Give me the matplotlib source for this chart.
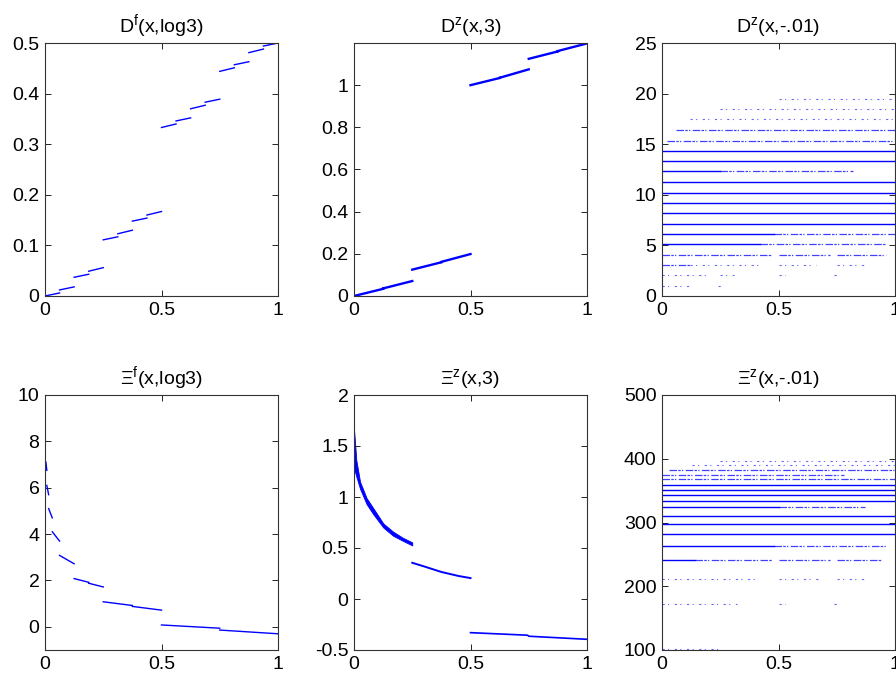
import numpy as np
import matplotlib
matplotlib.use('Agg')
import matplotlib.pyplot as plt
from matplotlib.ticker import FormatStrFormatter

plt.rcParams['font.family'] = ['Liberation Sans', 'DejaVu Sans']
plt.rcParams['mathtext.fontset'] = 'custom'
plt.rcParams['mathtext.rm'] = 'Liberation Sans'
plt.rcParams['axes.unicode_minus'] = False

BLUE = '#0000ff'

# ---- D^f(x,log3): one short rising dash per 1/16 of [0,1]
df_x0 = [0, 0.0625, 0.125, 0.1875, 0.25, 0.3125, 0.375, 0.4375,
         0.5, 0.5625, 0.625, 0.6875, 0.75, 0.8125, 0.875, 0.9375]
df_y0 = [0.0, 0.012, 0.037, 0.049, 0.111, 0.123, 0.148, 0.160,
         0.333, 0.346, 0.370, 0.383, 0.444, 0.457, 0.481, 0.494]
df_y1 = [0.006, 0.018, 0.043, 0.056, 0.117, 0.130, 0.154, 0.167,
         0.340, 0.352, 0.377, 0.389, 0.451, 0.463, 0.488, 0.500]

# ---- D^z(x,3): one dash per 1/8
dz3_x0 = [0, 0.125, 0.25, 0.375, 0.5, 0.625, 0.75, 0.875]
dz3_y0 = [0.0, 0.036, 0.125, 0.162, 1.000, 1.035, 1.125, 1.162]
dz3_y1 = [0.034, 0.071, 0.160, 0.199, 1.034, 1.075, 1.160, 1.198]

# ---- Xi^f(x,log3): dashes on dyadic pieces [2^-(k+1), 2^-k]
xf_xa = [0.5, 0.75, 0.25, 0.375, 0.125, 0.1875, 0.0625, 0.03125, 0.015625, 0.0078125, 0.0039]
xf_xb = [0.75, 1.0, 0.375, 0.5, 0.1875, 0.25, 0.125, 0.0625, 0.03125, 0.015625, 0.0078125]
xf_ya = [0.08, -0.14, 1.08, 0.88, 2.08, 1.88, 3.08, 4.1, 5.1, 6.1, 7.1]
xf_yb = [-0.06, -0.30, 0.92, 0.72, 1.92, 1.72, 2.72, 3.7, 4.7, 5.7, 6.75]

# ---- Xi^z(x,3)
xz_band_x = [0.0, 0.004, 0.01, 0.026, 0.054, 0.083, 0.126, 0.168, 0.21, 0.25]
xz_band_hi = [1.66, 1.55, 1.36, 1.15, 0.99, 0.89, 0.74, 0.66, 0.60, 0.555]
xz_band_lo = [1.25, 1.25, 1.20, 1.08, 0.93, 0.83, 0.70, 0.62, 0.57, 0.525]
xz_seg2_x = [0.25, 0.30, 0.375, 0.45, 0.5]
xz_seg2_y = [0.355, 0.32, 0.265, 0.225, 0.205]
xz_seg3_x = [0.5, 0.745, 0.75, 1.0]
xz_seg3_y = [-0.33, -0.355, -0.365, -0.395]

# ---- D^z(x,-.01): levels with solid / dense / sparse x-intervals
dzm_levels = [1.0, 2.03, 3.06, 4.08, 5.1, 6.13, 7.14, 8.17, 9.2, 10.2,
              11.3, 12.35, 13.34, 14.36, 15.35, 16.4, 17.46, 18.45, 19.47]
dzm_solid = [[], [], [], [], [(0, 0.42)], [(0, 0.48)], [(0, 1)], [(0, 1)],
             [(0, 1)], [(0, 1)], [(0, 1)], [(0, 0.25)], [(0, 1)], [(0, 1)],
             [], [], [], [], []]
dzm_dense = [[], [], [(0, 0.12)], [(0, 0.47), (0.5, 0.72), (0.75, 0.96)],
             [(0.42, 0.96)], [(0.48, 1)], [], [], [], [], [], [(0.25, 0.82)],
             [], [], [(0.02, 1)], [(0.06, 1)], [], [], []]
dzm_sparse = [[(0, 0.13), (0.24, 0.26)],
              [(0, 0.19), (0.25, 0.31), (0.5, 0.53), (0.74, 0.76)],
              [(0.12, 0.41), (0.5, 0.66), (0.75, 0.88)],
              [], [], [], [], [], [], [], [], [], [], [], [], [],
              [(0.12, 1)], [(0.25, 1)], [(0.5, 1)]]

# ---- Xi^z(x,-.01)
xzm_levels = [101, 172, 212, 241, 263, 282, 298, 310, 324, 333, 343,
              351, 359, 368, 375, 382, 390, 397]
xzm_solid = [[], [], [], [(0, 0.14)], [(0, 0.48)], [(0, 1)], [(0, 1)], [(0, 1)],
             [(0, 0.5)], [(0, 1)], [(0, 1)], [(0, 1)], [(0, 1)],
             [], [], [], [], []]
xzm_dense = [[], [], [], [(0.14, 0.47), (0.5, 0.72), (0.75, 0.94)],
             [(0.48, 0.96)], [], [], [], [(0.5, 0.87)], [], [], [], [],
             [(0, 1)], [(0.0, 0.78)], [(0.03, 1)], [], []]
xzm_sparse = [[(0, 0.25)],
              [(0, 0.32), (0.5, 0.53), (0.74, 0.76)],
              [(0, 0.41), (0.5, 0.67), (0.75, 0.88)],
              [], [], [], [], [], [], [], [], [], [], [], [], [],
              [(0.13, 1)], [(0.25, 1)]]

W, H = 896, 677
col_left = [45, 354, 662]
ax_w = 233
row_span = [(43, 296), (395, 650)]


def make_ax(col, row):
    top, bot = row_span[row]
    ax = fig.add_axes([col_left[col] / W, 1 - bot / H, ax_w / W, (bot - top) / H])
    ax.tick_params(direction='in', length=4, width=0.6, labelsize=14, pad=4,
                   top=True, right=True)
    for s in ax.spines.values():
        s.set_linewidth(0.8)
        s.set_color('#333333')
    ax.set_xlim(0, 1)
    ax.set_xticks([0, 0.5, 1])
    ax.xaxis.set_major_formatter(FormatStrFormatter('%g'))
    ax.yaxis.set_major_formatter(FormatStrFormatter('%g'))
    return ax


def draw_segments(ax, xa, xb, ya, yb, lw):
    xs, ys = [], []
    for a, b, c, d in zip(xa, xb, ya, yb):
        xs += [a, b, np.nan]
        ys += [c, d, np.nan]
    ax.plot(xs, ys, color=BLUE, lw=lw)


def draw_levels(ax, levels, solid, dense, sparse):
    for y, so, de, sp in zip(levels, solid, dense, sparse):
        for a, b in so:
            ax.plot([a, b], [y, y], color=BLUE, lw=1.0)
        for a, b in de:
            ax.plot([a, b], [y, y], color=BLUE, lw=0.9, alpha=0.75,
                    linestyle=(0, (6, 1, 2, 1, 1, 2)))
        for a, b in sp:
            ax.plot([a, b], [y, y], color=BLUE, lw=0.8, alpha=0.6,
                    linestyle=(0, (2, 3, 1, 5)))


fig = plt.figure(figsize=(W / 100, H / 100), dpi=100)

# top left
ax = make_ax(0, 0)
df_x1 = [x + 0.0625 for x in df_x0]
draw_segments(ax, df_x0, df_x1, df_y0, df_y1, 1.0)
ax.set_ylim(0, 0.5)
ax.set_yticks([0, 0.1, 0.2, 0.3, 0.4, 0.5])
ax.set_title(r'D$^{\mathrm{f}}$(x,log3)', fontsize=14, pad=7)

# top middle
ax = make_ax(1, 0)
dz3_x1 = [x + 0.125 for x in dz3_x0]
draw_segments(ax, dz3_x0, dz3_x1, dz3_y0, dz3_y1, 1.7)
ax.set_ylim(0, 1.2)
ax.set_yticks([0, 0.2, 0.4, 0.6, 0.8, 1])
ax.set_title(r'D$^{\mathrm{z}}$(x,3)', fontsize=14, pad=7)

# top right
ax = make_ax(2, 0)
draw_levels(ax, dzm_levels, dzm_solid, dzm_dense, dzm_sparse)
ax.set_ylim(0, 25)
ax.set_yticks([0, 5, 10, 15, 20, 25])
ax.set_title(r'D$^{\mathrm{z}}$(x,-.01)', fontsize=14, pad=7)

# bottom left
ax = make_ax(0, 1)
draw_segments(ax, xf_xa, xf_xb, xf_ya, xf_yb, 1.0)
ax.set_ylim(-1, 10)
ax.set_yticks([0, 2, 4, 6, 8, 10])
ax.set_title(r'Ξ$^{\mathrm{f}}$(x,log3)', fontsize=14, pad=7)

# bottom middle
ax = make_ax(1, 1)
ax.fill_between(xz_band_x, xz_band_lo, xz_band_hi, color=BLUE, lw=0.6)
ax.plot(xz_seg2_x, xz_seg2_y, color=BLUE, lw=1.4)
ax.plot(xz_seg3_x, xz_seg3_y, color=BLUE, lw=1.2)
ax.set_ylim(-0.5, 2)
ax.set_yticks([-0.5, 0, 0.5, 1, 1.5, 2])
ax.set_title(r'Ξ$^{\mathrm{z}}$(x,3)', fontsize=14, pad=7)

# bottom right
ax = make_ax(2, 1)
draw_levels(ax, xzm_levels, xzm_solid, xzm_dense, xzm_sparse)
ax.set_ylim(100, 500)
ax.set_yticks([100, 200, 300, 400, 500])
ax.set_title(r'Ξ$^{\mathrm{z}}$(x,-.01)', fontsize=14, pad=7)

fig.savefig('out.png', dpi=100)
